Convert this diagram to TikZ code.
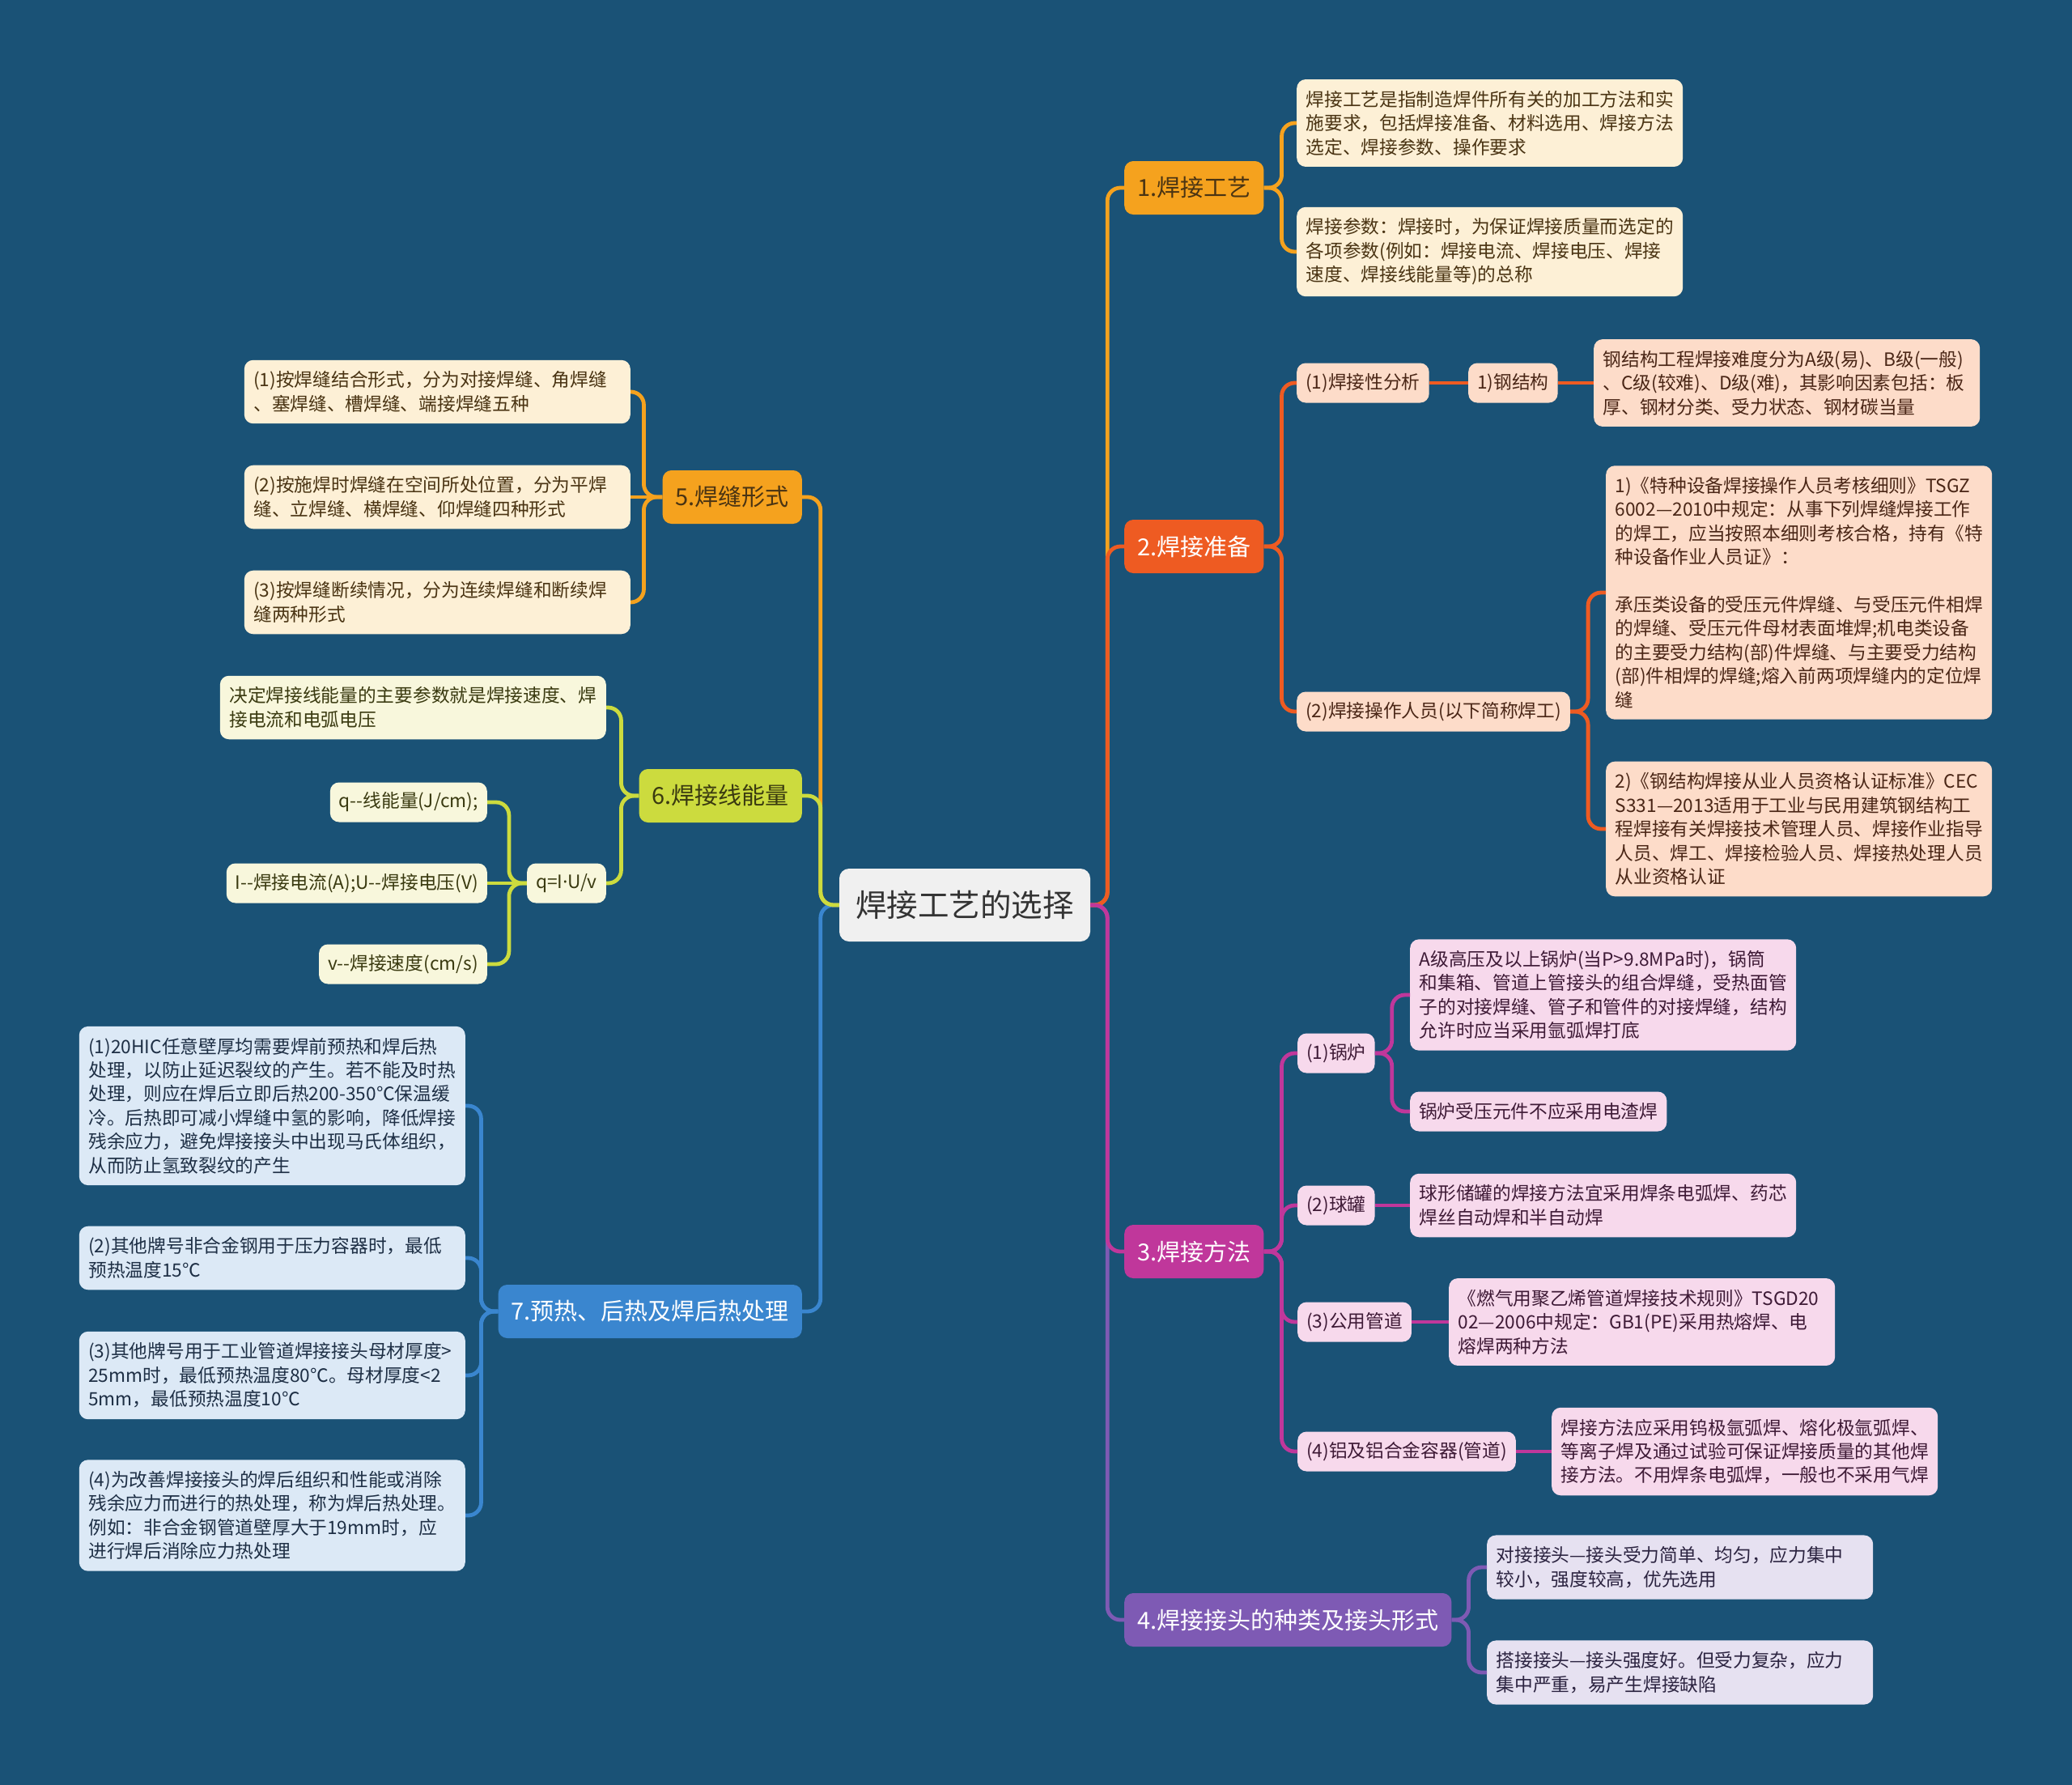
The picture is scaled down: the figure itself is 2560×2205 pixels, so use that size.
\documentclass[tikz,border=0pt]{standalone}
\usepackage{fontspec}
\setmainfont{Noto Sans CJK SC}
\newfontfamily\latinfont{Noto Sans}
\usepackage{xcolor}
\usepackage{tikz}
\definecolor{bgblue}{HTML}{1A5276}
\definecolor{rootfill}{HTML}{F0F0F0}
\definecolor{roottext}{HTML}{333333}
\definecolor{c1}{HTML}{F5A21E}
\definecolor{c2}{HTML}{EE5B22}
\definecolor{c3}{HTML}{C0379B}
\definecolor{c4}{HTML}{7E5AB4}
\definecolor{c5}{HTML}{F5A21E}
\definecolor{c6}{HTML}{CCDB3E}
\definecolor{c7}{HTML}{3A86CF}
\definecolor{leaf1}{HTML}{FDF0D6}
\definecolor{leaf2}{HTML}{FDDCC9}
\definecolor{leaf3}{HTML}{F7D9EC}
\definecolor{leaf4}{HTML}{E6E1F1}
\definecolor{leaf6}{HTML}{F8F7DC}
\definecolor{leaf7}{HTML}{DCE9F6}
\definecolor{ink1}{HTML}{4A3413}
\definecolor{ink2}{HTML}{4A2616}
\definecolor{ink3}{HTML}{3E1A36}
\definecolor{ink4}{HTML}{2B2340}
\definecolor{ink6}{HTML}{3A3A10}
\definecolor{ink7}{HTML}{1E2F45}
\newcommand\dd{-\kern0pt-}
\tikzset{
  mainnode/.style={fill=rootfill, text=roottext, rounded corners=12pt,
    minimum width=310pt, minimum height=90pt, font=\fontsize{38.5}{46}\selectfont},
  topicbox/.style 2 args={fill=#1, text=#2, rounded corners=11pt, inner xsep=16pt,
    minimum height=66pt, font=\fontsize{29}{35}\selectfont},
  notebox/.style 2 args={fill=#1, text=#2, rounded corners=11pt, inner xsep=11.5pt,
    inner ysep=14pt, text width=454pt, align=left, font=\fontsize{22.7}{29.4}\selectfont},
  tagbox/.style 2 args={fill=#1, text=#2, rounded corners=11pt, inner xsep=11pt,
    minimum height=49pt, font=\fontsize{22.7}{29.4}\selectfont},
  link/.style={draw=#1, line width=4.8pt, rounded corners=16pt},
}

\begin{document}
\begin{tikzpicture}[x=1pt,y=-1pt]
  \path[use as bounding box, fill=bgblue] (0,0) rectangle (2560,2205);

  \node[mainnode] (root) at (1192,1118) {焊接工艺的选择};

  % right side
  \node[topicbox={c1}{ink1}, anchor=west] (b1) at (1389,232) {1.焊接工艺};
  \node[notebox={leaf1}{ink1}, anchor=west] (b1a) at (1602,152)
    {焊接工艺是指制造焊件所有关的加工方法和实\\施要求，包括焊接准备、材料选用、焊接方法\\选定、焊接参数、操作要求};
  \node[notebox={leaf1}{ink1}, anchor=west] (b1b) at (1602,311)
    {焊接参数：焊接时，为保证焊接质量而选定的\\各项参数(例如：焊接电流、焊接电压、焊接\\速度、焊接线能量等)的总称};

  \node[topicbox={c2}{white}, anchor=west] (b2) at (1389,675) {2.焊接准备};
  \node[tagbox={leaf2}{ink2}, anchor=west] (b2a) at (1602,473) {(1)焊接性分析};
  \node[tagbox={leaf2}{ink2}, anchor=west] (b2a1) at (1814,473) {1)钢结构};
  \node[notebox={leaf2}{ink2}, anchor=west] (b2a1x) at (1969,473)
    {钢结构工程焊接难度分为A级(易)、B级(一般)\\、C级(较难)、D级(难)，其影响因素包括：板\\厚、钢材分类、受力状态、钢材碳当量};
  \node[tagbox={leaf2}{ink2}, anchor=west] (b2b) at (1602,879) {(2)焊接操作人员(以下简称焊工)};
  \node[notebox={leaf2}{ink2}, anchor=west] (b2b1) at (1984,732)
    {1)《特种设备焊接操作人员考核细则》TSGZ\\6002—2010中规定：从事下列焊缝焊接工作\\的焊工，应当按照本细则考核合格，持有《特\\种设备作业人员证》：\\[29.4pt]承压类设备的受压元件焊缝、与受压元件相焊\\的焊缝、受压元件母材表面堆焊;机电类设备\\的主要受力结构(部)件焊缝、与主要受力结构\\(部)件相焊的焊缝;熔入前两项焊缝内的定位焊\\缝};
  \node[notebox={leaf2}{ink2}, anchor=west] (b2b2) at (1984,1024)
    {2)《钢结构焊接从业人员资格认证标准》CEC\\S331—2013适用于工业与民用建筑钢结构工\\程焊接有关焊接技术管理人员、焊接作业指导\\人员、焊工、焊接检验人员、焊接热处理人员\\从业资格认证};

  \node[topicbox={c3}{white}, anchor=west] (b3) at (1389,1546) {3.焊接方法};
  \node[tagbox={leaf3}{ink3}, anchor=west] (b3a) at (1603,1301) {(1)锅炉};
  \node[notebox={leaf3}{ink3}, anchor=west] (b3a1) at (1742,1229)
    {A级高压及以上锅炉(当P>9.8MPa时)，锅筒\\和集箱、管道上管接头的组合焊缝，受热面管\\子的对接焊缝、管子和管件的对接焊缝，结构\\允许时应当采用氩弧焊打底};
  \node[tagbox={leaf3}{ink3}, anchor=west] (b3a2) at (1742,1373) {锅炉受压元件不应采用电渣焊};
  \node[tagbox={leaf3}{ink3}, anchor=west] (b3b) at (1603,1489) {(2)球罐};
  \node[notebox={leaf3}{ink3}, anchor=west] (b3b1) at (1742,1489)
    {球形储罐的焊接方法宜采用焊条电弧焊、药芯\\焊丝自动焊和半自动焊};
  \node[tagbox={leaf3}{ink3}, anchor=west] (b3c) at (1603,1633) {(3)公用管道};
  \node[notebox={leaf3}{ink3}, anchor=west] (b3c1) at (1790,1633)
    {《燃气用聚乙烯管道焊接技术规则》TSGD20\\02—2006中规定：GB1(PE)采用热熔焊、电\\熔焊两种方法};
  \node[tagbox={leaf3}{ink3}, anchor=west] (b3d) at (1603,1793) {(4)铝及铝合金容器(管道)};
  \node[notebox={leaf3}{ink3}, anchor=west] (b3d1) at (1917,1793)
    {焊接方法应采用钨极氩弧焊、熔化极氩弧焊、\\等离子焊及通过试验可保证焊接质量的其他焊\\接方法。不用焊条电弧焊，一般也不采用气焊};

  \node[topicbox={c4}{white}, anchor=west] (b4) at (1389,2001) {4.焊接接头的种类及接头形式};
  \node[notebox={leaf4}{ink4}, anchor=west] (b4a) at (1837,1936)
    {对接接头—接头受力简单、均匀，应力集中\\较小，强度较高，优先选用};
  \node[notebox={leaf4}{ink4}, anchor=west] (b4b) at (1837,2066)
    {搭接接头—接头强度好。但受力复杂，应力\\集中严重，易产生焊接缺陷};

  % left side
  \node[topicbox={c5}{ink1}, anchor=east] (b5) at (991,614) {5.焊缝形式};
  \node[notebox={leaf1}{ink1}, anchor=east] (b5a) at (779,484)
    {(1)按焊缝结合形式，分为对接焊缝、角焊缝\\、塞焊缝、槽焊缝、端接焊缝五种};
  \node[notebox={leaf1}{ink1}, anchor=east] (b5b) at (779,614)
    {(2)按施焊时焊缝在空间所处位置，分为平焊\\缝、立焊缝、横焊缝、仰焊缝四种形式};
  \node[notebox={leaf1}{ink1}, anchor=east] (b5c) at (779,744)
    {(3)按焊缝断续情况，分为连续焊缝和断续焊\\缝两种形式};

  \node[topicbox={c6}{ink6}, anchor=east] (b6) at (991,983) {6.焊接线能量};
  \node[notebox={leaf6}{ink6}, anchor=east] (b6a) at (749,874)
    {决定焊接线能量的主要参数就是焊接速度、焊\\接电流和电弧电压};
  \node[tagbox={leaf6}{ink6}, anchor=east] (b6b) at (749,1091) {q=I{\latinfont ·}U/v};
  \node[tagbox={leaf6}{ink6}, anchor=east] (b6b1) at (602,991) {q\dd 线能量(J/cm);};
  \node[tagbox={leaf6}{ink6}, anchor=east] (b6b2) at (602,1091) {I\dd 焊接电流(A);U\dd 焊接电压(V)};
  \node[tagbox={leaf6}{ink6}, anchor=east] (b6b3) at (602,1191) {v\dd 焊接速度(cm/s)};

  \node[topicbox={c7}{white}, anchor=east] (b7) at (991,1620) {7.预热、后热及焊后热处理};
  \node[notebox={leaf7}{ink7}, anchor=east] (b7a) at (575,1366)
    {(1)20HIC任意壁厚均需要焊前预热和焊后热\\处理，以防止延迟裂纹的产生。若不能及时热\\处理，则应在焊后立即后热200-350℃保温缓\\冷。后热即可减小焊缝中氢的影响，降低焊接\\残余应力，避免焊接接头中出现马氏体组织，\\从而防止氢致裂纹的产生};
  \node[notebox={leaf7}{ink7}, anchor=east] (b7b) at (575,1554)
    {(2)其他牌号非合金钢用于压力容器时，最低\\预热温度15℃};
  \node[notebox={leaf7}{ink7}, anchor=east] (b7c) at (575,1699)
    {(3)其他牌号用于工业管道焊接接头母材厚度>\\25mm时，最低预热温度80℃。母材厚度<2\\5mm，最低预热温度10℃};
  \node[notebox={leaf7}{ink7}, anchor=east] (b7d) at (575,1872)
    {(4)为改善焊接接头的焊后组织和性能或消除\\残余应力而进行的热处理，称为焊后热处理。\\例如：非合金钢管道壁厚大于19mm时，应\\进行焊后消除应力热处理};

  % links from the root
  \draw[link=c1] (root.east) -- ++(21,0) |- (b1.west);
  \draw[link=c4] (root.east) -- ++(21,0) |- (b4.west);
  \draw[link=c2] (root.east) -- ++(21,0) |- (b2.west);
  \draw[link=c3] (root.east) -- ++(21,0) |- (b3.west);
  \draw[link=c5] (root.west) -- ++(-23,0) |- (b5.east);
  \draw[link=c7] (root.west) -- ++(-23,0) |- (b7.east);
  \draw[link=c6] (root.west) -- ++(-23,0) |- (b6.east);

  % links to the leaves
  \foreach \k in {b1a,b1b}
    \draw[link=c1] (b1.east) -- ++(22,0) |- (\k.west);
  \foreach \k in {b2a,b2b}
    \draw[link=c2] (b2.east) -- ++(22,0) |- (\k.west);
  \draw[link=c2] (b2a.east) -- (b2a1.west);
  \draw[link=c2] (b2a1.east) -- (b2a1x.west);
  \foreach \k in {b2b1,b2b2}
    \draw[link=c2] (b2b.east) -- ++(22,0) |- (\k.west);
  \foreach \k in {b3a,b3b,b3c,b3d}
    \draw[link=c3] (b3.east) -- ++(22,0) |- (\k.west);
  \foreach \k in {b3a1,b3a2}
    \draw[link=c3] (b3a.east) -- ++(21,0) |- (\k.west);
  \draw[link=c3] (b3b.east) -- (b3b1.west);
  \draw[link=c3] (b3c.east) -- (b3c1.west);
  \draw[link=c3] (b3d.east) -- (b3d1.west);
  \foreach \k in {b4a,b4b}
    \draw[link=c4] (b4.east) -- ++(21,0) |- (\k.west);
  \foreach \k in {b5a,b5c}
    \draw[link=c5] (b5.west) -- ++(-23,0) |- (\k.east);
  \draw[link=c5] (b5.west) -- (b5b.east);
  \foreach \k in {b6a,b6b}
    \draw[link=c6] (b6.west) -- ++(-22,0) |- (\k.east);
  \foreach \k in {b6b1,b6b3}
    \draw[link=c6] (b6b.west) -- ++(-22,0) |- (\k.east);
  \draw[link=c6] (b6b.west) -- (b6b2.east);
  \foreach \k in {b7a,b7b,b7c,b7d}
    \draw[link=c7] (b7.west) -- ++(-21,0) |- (\k.east);
\end{tikzpicture}
\end{document}
